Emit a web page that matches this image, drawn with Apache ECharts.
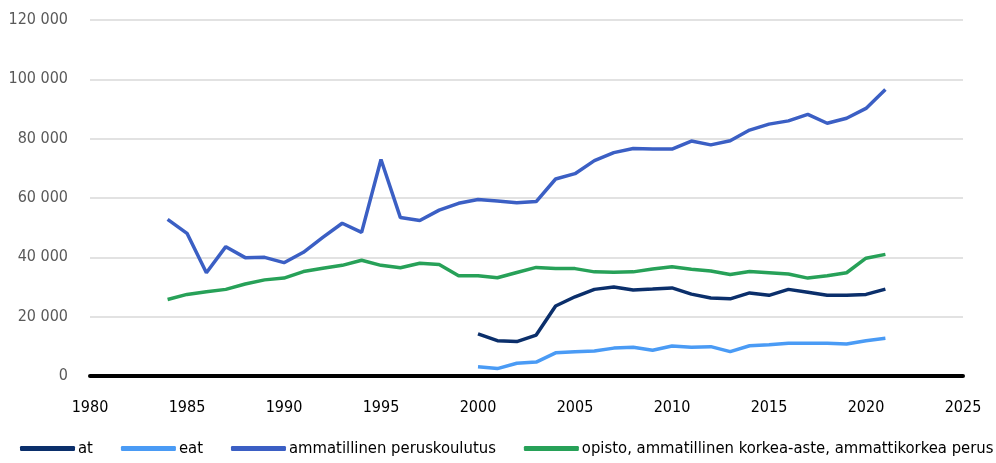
<!DOCTYPE html>
<html>
<head>
<meta charset="utf-8">
<script src="https://cdn.jsdelivr.net/npm/echarts@6/dist/echarts.min.js"></script>
<style>
    html, body { margin: 0; padding: 0; background: #fff; }
    #main { width: 996px; height: 463px; }
</style>
</head>
<body>
<div id="main"></div>
<script>
// 年份
var yearsAll = [1984, 1985, 1986, 1987, 1988, 1989, 1990, 1991, 1992, 1993, 1994, 1995, 1996, 1997, 1998, 1999, 2000,
    2001, 2002, 2003, 2004, 2005, 2006, 2007, 2008, 2009, 2010, 2011, 2012, 2013, 2014, 2015, 2016, 2017, 2018, 2019, 2020, 2021];
var years2000 = [2000, 2001, 2002, 2003, 2004, 2005, 2006, 2007, 2008, 2009, 2010, 2011, 2012, 2013, 2014, 2015, 2016,
    2017, 2018, 2019, 2020, 2021];

// 数据
var atData = [14200, 11900, 11600, 13800, 23600, 26700, 29200, 30000, 29000, 29300, 29700, 27600, 26300, 26000, 28000,
    27200, 29200, 28200, 27200, 27200, 27500, 29300];
var eatData = [3100, 2500, 4300, 4700, 7800, 8200, 8400, 9400, 9700, 8700, 10100, 9700, 9900, 8200, 10200, 10500, 11000,
    11000, 11000, 10800, 11900, 12700];
var peruskoulutusData = [52800, 48100, 34800, 43600, 39900, 40000, 38200, 41700, 46700, 51500, 48400, 73000, 53400, 52400,
    55900, 58200, 59500, 59000, 58400, 58800, 66400, 68200, 72600, 75300, 76700, 76500, 76500, 79200, 77900, 79300, 82900,
    84900, 86000, 88200, 85200, 86900, 90200, 96600];
var opistoData = [25800, 27500, 28400, 29200, 31000, 32400, 33000, 35200, 36300, 37300, 39000, 37300, 36500, 38000, 37600,
    33800, 33800, 33100, 34900, 36600, 36200, 36200, 35100, 35000, 35100, 36100, 36800, 36000, 35400, 34200, 35200, 34800,
    34400, 33000, 33800, 34800, 39700, 41000];

var seriesNames = ['at', 'eat', 'ammatillinen peruskoulutus', 'opisto, ammatillinen korkea-aste, ammattikorkea perus'];
var seriesColors = ['#0b2f6b', '#4a9bf5', '#3b5fc4', '#27a158'];

var fontName = '"DejaVu Sans Condensed", sans-serif';

function pairs(xs, ys){
    var arr = [];
    for(var i = 0; i < xs.length; i++){
        arr.push([xs[i], ys[i]]);
    }
    return arr;
}

var seriesData = [
    pairs(years2000, atData),
    pairs(years2000, eatData),
    pairs(yearsAll, peruskoulutusData),
    pairs(yearsAll, opistoData)
];

var series = [];
for(var i = 0; i < seriesNames.length; i++){
    series.push({
        name: seriesNames[i],
        type: 'line',
        data: seriesData[i],
        color: seriesColors[i],
        showSymbol: false,
        symbol: 'none',
        lineStyle: { width: 3.5, color: seriesColors[i] },
        z: 3
    });
}

var myChart = echarts.init(document.getElementById('main'));
var option = {
    animation: false,
    textStyle: { fontFamily: fontName },
    grid: { left: 90, right: 33, top: 20, bottom: 87 },
    legend: {
        left: 20,
        top: 440,
        width: 1200,
        padding: 0,
        itemWidth: 55,
        itemHeight: 5,
        itemGap: 28,
        icon: 'roundRect',
        textStyle: { fontFamily: fontName, fontSize: 16.5, color: '#000', padding: [0, 0, 0, -2] },
        data: seriesNames
    },
    xAxis: {
        type: 'value',
        min: 1980,
        max: 2025,
        interval: 5,
        axisLine: { show: true, onZero: true, lineStyle: { color: '#000', width: 4 } },
        axisTick: { show: false },
        splitLine: { show: false },
        axisLabel: {
            margin: 24,
            fontSize: 16,
            color: '#000',
            fontFamily: fontName,
            formatter: function(v){ return String(v); }
        }
    },
    yAxis: {
        type: 'value',
        min: 0,
        max: 120000,
        interval: 20000,
        axisLine: { show: false },
        axisTick: { show: false },
        splitLine: { lineStyle: { color: '#d9d9d9', width: 1.5 } },
        axisLabel: {
            margin: 22,
            fontSize: 16,
            color: '#595959',
            fontFamily: fontName,
            formatter: function(v){
                return String(v).replace(/\B(?=(\d{3})+(?!\d))/g, ' ');
            }
        }
    },
    series: series
};
myChart.setOption(option);
</script>
</body>
</html>
